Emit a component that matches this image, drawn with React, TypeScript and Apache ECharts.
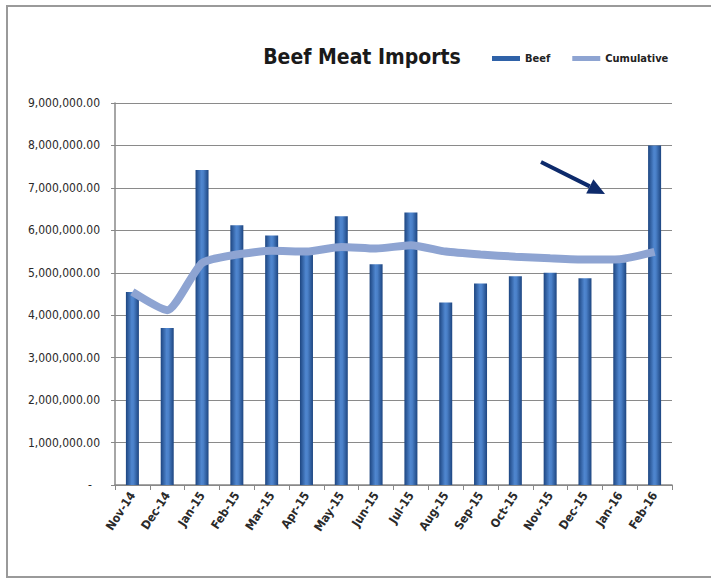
import React, { useEffect, useRef } from "react";
import * as echarts from "echarts";

const categories = [
  "Nov-14", "Dec-14", "Jan-15", "Feb-15", "Mar-15", "Apr-15", "May-15", "Jun-15",
  "Jul-15", "Aug-15", "Sep-15", "Oct-15", "Nov-15", "Dec-15", "Jan-16", "Feb-16",
];
const beefValues = [
  4550000, 3700000, 7420000, 6120000, 5880000, 5420000, 6330000, 5200000,
  6420000, 4300000, 4750000, 4920000, 5000000, 4870000, 5250000, 8000000,
];
const cumulativeValues = [
  4550000, 4120000, 5230000, 5430000, 5520000, 5500000, 5610000, 5570000,
  5650000, 5500000, 5430000, 5380000, 5340000, 5310000, 5320000, 5490000,
];
const titleText = "Beef Meat Imports";
const seriesNames = ["Beef", "Cumulative"];
const yMax = 9000000;
const yStep = 1000000;

const condensed = "'DejaVu Sans Condensed', 'Liberation Sans Narrow', 'DejaVu Sans', sans-serif";

function fmt(v: number): string {
  if (v === 0) return "{z|-}";
  const s = Math.round(v).toString().replace(/\B(?=(\d{3})+(?!\d))/g, ",");
  return s + ".00";
}

export default function App() {
  const ref = useRef<HTMLDivElement>(null);
  useEffect(() => {
    if (!ref.current) return;
    const chart = echarts.init(ref.current, null, { renderer: "svg" });
    const barGrad = new echarts.graphic.LinearGradient(0, 0, 1, 0, [
      { offset: 0, color: "#1d4580" },
      { offset: 0.45, color: "#4f86cf" },
      { offset: 0.6, color: "#4a80c8" },
      { offset: 1, color: "#1d4580" },
    ]);
    const tail = [541, 162];
    const tip = [605, 194];
    const dx = tip[0] - tail[0];
    const dy = tip[1] - tail[1];
    const len = Math.sqrt(dx * dx + dy * dy);
    const ux = dx / len, uy = dy / len;
    const px = -uy, py = ux;
    const hl = 17, hw = 8;
    const bc = [tip[0] - hl * ux, tip[1] - hl * uy];

    chart.setOption({
      animation: false,
      backgroundColor: "#ffffff",
      title: {
        text: titleText,
        left: 357,
        textAlign: "center",
        top: 41,
        textStyle: {
          fontFamily: condensed,
          fontWeight: "bold",
          fontSize: 21,
          color: "#1a1a1a",
        },
      },
      legend: {
        left: 487,
        top: 48,
        itemWidth: 28,
        itemHeight: 5,
        itemGap: 22,
        textStyle: { fontFamily: condensed, fontSize: 11, color: "#222", fontWeight: "bold" },
        data: [
          { name: seriesNames[0], icon: "rect", itemStyle: { color: "#2f62a8" } },
          { name: seriesNames[1], icon: "rect", itemStyle: { color: "#8ea4d2" } },
        ],
      },
      grid: { left: 115, right: 39, top: 103, bottom: 96 },
      xAxis: {
        type: "category",
        data: categories,
        boundaryGap: true,
        axisLine: { lineStyle: { color: "#888", width: 1.5 } },
        axisTick: { show: true, length: 5, lineStyle: { color: "#888" } },
        axisLabel: {
          interval: 0,
          rotate: 57,
          margin: 8,
          fontFamily: condensed,
          fontSize: 12,
          fontWeight: "bold",
          color: "#2a2a2a",
        },
      },
      yAxis: {
        type: "value",
        min: 0,
        max: yMax,
        interval: yStep,
        axisLine: { show: true, lineStyle: { color: "#888", width: 1.5 } },
        axisTick: { show: true, length: 4, lineStyle: { color: "#888" } },
        splitLine: { lineStyle: { color: "#8a8a8a", width: 1.2 } },
        axisLabel: {
          margin: 15,
          fontFamily: condensed,
          fontSize: 12,
          color: "#2a2a2a",
          formatter: fmt,
          rich: { z: { fontSize: 12, color: "#2a2a2a", padding: [0, 8, 0, 0] } },
        },
      },
      series: [
        {
          name: seriesNames[0],
          type: "bar",
          data: beefValues,
          barWidth: 13,
          itemStyle: { color: barGrad },
          z: 2,
        },
        {
          name: seriesNames[1],
          type: "line",
          data: cumulativeValues,
          smooth: 0.2,
          symbol: "none",
          lineStyle: { color: "#8ea4d2", width: 8 },
          itemStyle: { color: "#8ea4d2" },
          z: 3,
        },
      ],
      graphic: [
        {
          type: "rect",
          shape: { x: 7, y: 6, width: 720, height: 571 },
          style: { fill: "none", stroke: "#9a9a9a", lineWidth: 2 },
          z: 0,
          silent: true,
        },
        {
          type: "line",
          shape: { x1: tail[0], y1: tail[1], x2: bc[0], y2: bc[1] },
          style: { stroke: "#0d2a6b", lineWidth: 4 },
          z: 10,
        },
        {
          type: "polygon",
          shape: {
            points: [
              [tip[0], tip[1]],
              [bc[0] + hw * px, bc[1] + hw * py],
              [bc[0] - hw * px, bc[1] - hw * py],
            ],
          },
          style: { fill: "#0d2a6b" },
          z: 10,
        },
      ],
    });
    return () => chart.dispose();
  }, []);
  return (
    <div
      ref={ref}
      style={{ position: "absolute", left: 0, top: 0, width: 711, height: 581 }}
    />
  );
}
